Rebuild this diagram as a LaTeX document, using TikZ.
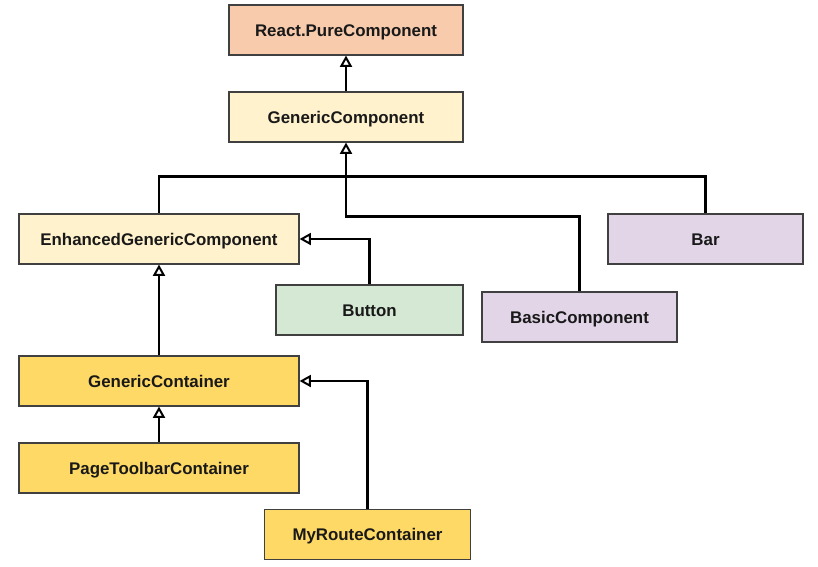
\documentclass[tikz,border=0pt]{standalone}
\usepackage{fontspec}
\setmainfont{Liberation Sans}
\usetikzlibrary{arrows.meta, positioning}
\usepackage{xcolor}
\definecolor{peach}{HTML}{F8CBAD}
\definecolor{cream}{HTML}{FFF2CC}
\definecolor{mint}{HTML}{D5E8D4}
\definecolor{lilac}{HTML}{E1D5E7}
\definecolor{gold}{HTML}{FFD966}
\definecolor{edge}{HTML}{404040}

\begin{document}
\begin{tikzpicture}[
    x=0.025cm, y=-0.025cm,
    cls/.style={draw=edge, line width=0.8pt, fill=#1, minimum height=1.25cm,
        font=\fontsize{12}{14}\selectfont\bfseries, text=black!90, inner sep=0pt,
        text height=8.6pt, text depth=0pt},
    inherit/.style={draw, line width=1.7pt, -{Triangle[open, length=8pt, width=8.5pt, line width=1.4pt]}},
    link/.style={draw, line width=1.7pt},
]
\useasboundingbox (0,0) rectangle (818,567);

% base classes
\node[cls=peach, minimum width=5.85cm] (pure) at (346,30) {React.PureComponent};
\node[cls=cream, minimum width=5.85cm] (gencomp) at (346,117) {GenericComponent};

% components
\node[cls=cream, minimum width=7cm] (enh) at (159,239) {EnhancedGenericComponent};
\node[cls=mint, minimum width=4.675cm] (button) at (369.5,310) {Button};
\node[cls=lilac, minimum width=4.875cm] (basic) at (579.5,317) {BasicComponent};
\node[cls=lilac, minimum width=4.875cm] (bar) at (705.5,239) {Bar};

% containers
\node[cls=gold, minimum width=7cm] (gencont) at (159,381) {GenericContainer};
\node[cls=gold, minimum width=7cm] (toolbar) at (159,468) {PageToolbarContainer};
\node[cls=gold, minimum width=5.15cm] (route) at (367.5,534.5) {MyRouteContainer};

% inheritance
\draw[inherit] (gencomp) -- (pure);
\draw[link] (enh.north) -- ++(0,-37) -| (bar.north);
\draw[inherit] (basic.north) -- ++(0,-75) -| (gencomp.south);
\draw[inherit] (button.north) |- (enh.east);
\draw[inherit] (gencont) -- (enh);
\draw[inherit] (toolbar) -- (gencont);
\draw[inherit] (route.north) |- (gencont.east);

\end{tikzpicture}
\end{document}
